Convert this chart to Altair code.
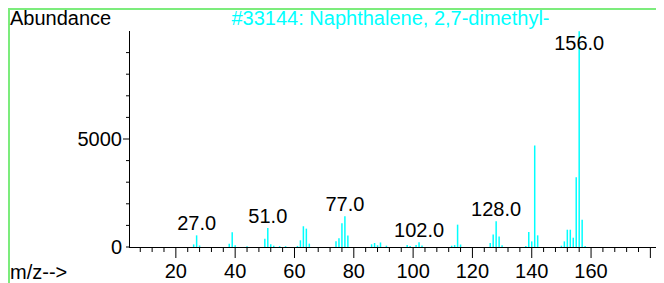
import altair as alt
import pandas as pd

# m/z values and abundances
mz = [26, 27, 28, 38, 39, 40, 44, 50, 51, 52, 53, 55, 57,
      61, 62, 63, 64, 65, 74, 75, 76, 77, 78, 86, 87, 88, 89, 91,
      98, 99, 101, 102, 103, 113, 114, 115, 116, 126, 127, 128, 129, 130,
      138, 139, 140, 141, 142, 150, 151, 152, 153, 154, 155, 156, 157, 158]
abundance = [120, 540, 70, 150, 680, 80, 40, 385, 880, 125, 60, 40, 40,
             50, 310, 960, 850, 155, 270, 400, 1100, 1425, 535, 125, 185, 80, 210, 60,
             90, 50, 90, 220, 70, 60, 90, 1035, 115, 185, 575, 1190, 490, 80,
             45, 695, 260, 4700, 540, 60, 260, 800, 800, 430, 3225, 9990, 1265, 50]

# labelled peaks
label_mz = [27, 51, 77, 102, 128, 156]
label_ab = [540, 880, 1425, 220, 1190, 9990]
label_txt = ["27.0", "51.0", "77.0", "102.0", "128.0", "156.0"]

# axis ticks and tick labels
x_major = [20, 40, 60, 80, 100, 120, 140, 160, 180]
x_minor = [v for v in range(8, 184, 4) if v % 20 != 0]
x_label_vals = [20, 40, 60, 80, 100, 120, 140, 160]
x_label_txt = ["20", "40", "60", "80", "100", "120", "140", "160"]
y_major = [5000]
y_minor = [0, 1000, 2000, 3000, 4000, 6000, 7000, 8000, 9000]
y_label_vals = [0, 5000]
y_label_txt = ["0", "5000"]

title_text = "#33144: Naphthalene, 2,7-dimethyl-"
y_title = "Abundance"
x_title = "m/z-->"

FONT = "Liberation Sans"
CYAN = "#00ffff"
GREEN = "#7cec7c"

W, H = 527, 216

xscale = alt.Scale(domain=[4.2, 181.9], nice=False, zero=False)
yscale = alt.Scale(domain=[0, 10000], nice=False, zero=False)

spec = pd.DataFrame({"mz": mz, "ab": abundance})
labels = pd.DataFrame({"mz": label_mz, "ab": label_ab, "txt": label_txt})

bars = alt.Chart(spec).mark_rule(color=CYAN, strokeWidth=1.5).encode(
    x=alt.X("mz:Q", scale=xscale, axis=None),
    y=alt.Y("ab:Q", scale=yscale, axis=None),
    y2=alt.datum(0),
)

peak_labels = alt.Chart(labels).transform_calculate(
    ly="min(datum.ab, 8900)"
).mark_text(
    font=FONT, fontSize=20, color="black", align="center", baseline="alphabetic", dy=-5
).encode(
    x=alt.X("mz:Q", scale=xscale, axis=None),
    y=alt.Y("ly:Q", scale=yscale, axis=None),
    text="txt:N",
)

one = pd.DataFrame({"a": [0]})

# axis lines
x_domain = alt.Chart(one).mark_rule(color="black", strokeWidth=1).encode(
    x=alt.value(0), x2=alt.value(W), y=alt.value(H + 0.5)
)
y_domain = alt.Chart(one).mark_rule(color="black", strokeWidth=1).encode(
    x=alt.value(0.5), y=alt.value(0), y2=alt.value(H)
)

# x ticks and labels
x_major_ticks = alt.Chart(pd.DataFrame({"v": x_major})).mark_rule(color="black", strokeWidth=1).encode(
    x=alt.X("v:Q", scale=xscale, axis=None), y=alt.value(H), y2=alt.value(H + 11)
)
x_minor_ticks = alt.Chart(pd.DataFrame({"v": x_minor})).mark_rule(color="black", strokeWidth=1).encode(
    x=alt.X("v:Q", scale=xscale, axis=None), y=alt.value(H), y2=alt.value(H + 5)
)
x_labels = alt.Chart(pd.DataFrame({"v": x_label_vals, "t": x_label_txt})).mark_text(
    font=FONT, fontSize=20, color="black", align="center", baseline="alphabetic"
).encode(x=alt.X("v:Q", scale=xscale, axis=None), y=alt.value(H + 31), text="t:N")

# y ticks and labels
y_major_ticks = alt.Chart(pd.DataFrame({"v": y_major})).mark_rule(color="black", strokeWidth=1).encode(
    y=alt.Y("v:Q", scale=yscale, axis=None), x=alt.value(-6), x2=alt.value(0)
)
y_minor_ticks = alt.Chart(pd.DataFrame({"v": y_minor})).mark_rule(color="black", strokeWidth=1).encode(
    y=alt.Y("v:Q", scale=yscale, axis=None), x=alt.value(-3), x2=alt.value(0)
)
y_labels = alt.Chart(pd.DataFrame({"v": y_label_vals, "t": y_label_txt})).mark_text(
    font=FONT, fontSize=20, color="black", align="right", baseline="middle", dy=1
).encode(y=alt.Y("v:Q", scale=yscale, axis=None), x=alt.value(-7), text="t:N")

# titles
title_mark = alt.Chart(pd.DataFrame({"t": [title_text]})).mark_text(
    font=FONT, fontSize=20, color=CYAN, align="center", baseline="alphabetic"
).encode(x=alt.value(261.5), y=alt.value(-6), text="t:N")

ytitle_mark = alt.Chart(pd.DataFrame({"t": [y_title]})).mark_text(
    font=FONT, fontSize=20, color="black", align="left", baseline="alphabetic"
).encode(x=alt.value(-119), y=alt.value(-6), text="t:N")

xtitle_mark = alt.Chart(pd.DataFrame({"t": [x_title]})).mark_text(
    font=FONT, fontSize=20, color="black", align="left", baseline="alphabetic"
).encode(x=alt.value(-119), y=alt.value(247.5), text="t:N")

# green frame
frame_top = alt.Chart(one).mark_rule(color=GREEN, strokeWidth=2).encode(
    x=alt.value(-120), x2=alt.value(600), y=alt.value(-22)
)
frame_left = alt.Chart(one).mark_rule(color=GREEN, strokeWidth=2).encode(
    x=alt.value(-120), y=alt.value(-23), y2=alt.value(300)
)

chart = alt.layer(
    bars, peak_labels,
    x_domain, y_domain, x_major_ticks, x_minor_ticks, x_labels,
    y_major_ticks, y_minor_ticks, y_labels,
    frame_top, frame_left, title_mark, ytitle_mark, xtitle_mark
).properties(
    width=W, height=H, background="white",
    autosize=alt.AutoSizeParams(type="none"),
    padding={"left": 121, "top": 23, "right": 0, "bottom": 36},
).configure_view(stroke=None)

chart.save("out.html", embed_options={"renderer": "svg", "actions": False})
